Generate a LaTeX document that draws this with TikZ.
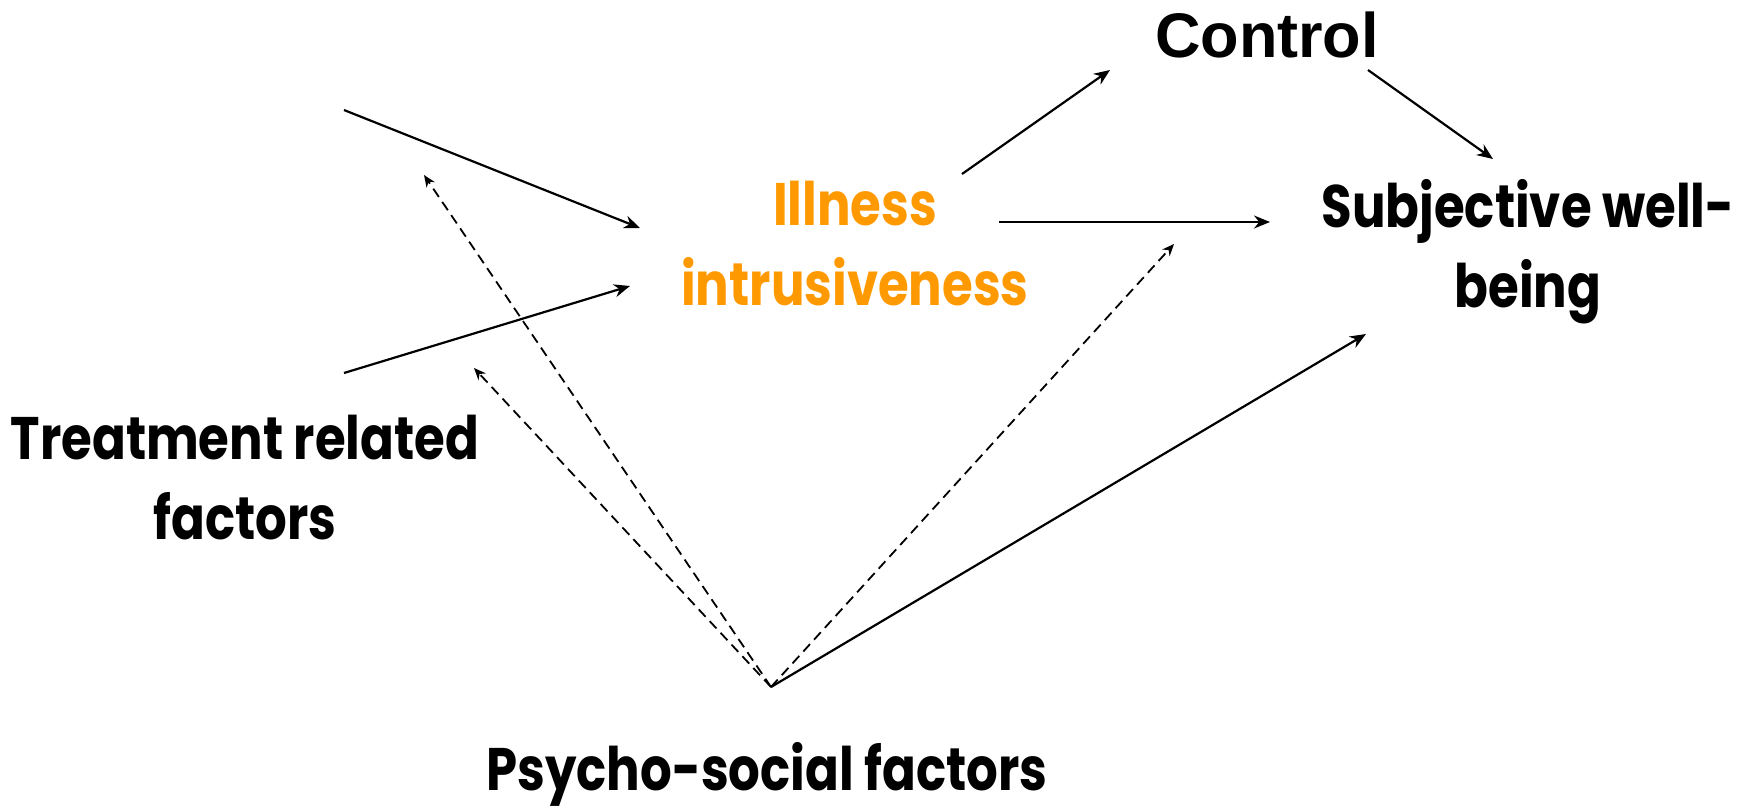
\documentclass[tikz,border=0pt]{standalone}
\usepackage{fontspec}
\setmainfont{Liberation Sans}
\newfontfamily\futfont[FakeStretch=0.83]{Poppins}
\usetikzlibrary{arrows.meta}
\definecolor{IllClr}{RGB}{255,153,0}

\begin{document}
\begin{tikzpicture}[x=0.5pt,y=-0.5pt,
  lbl/.style={font=\futfont\bfseries\fontsize{30}{40}\selectfont,align=center,inner sep=0pt},
  conn/.style={line width=1.1pt,-{Stealth[length=8pt,width=6.5pt]}},
  dconn/.style={line width=0.9pt,dash pattern=on 5pt off 3pt,-{Stealth[length=6pt,width=5pt]}}]
\useasboundingbox (0,0) rectangle (1758,809);

\node[font=\bfseries\fontsize{31.5}{36}\selectfont,inner sep=0pt] (ctrl) at (1267,35) {Control};
\node[lbl,text=IllClr] (ill) at (855,244) {Illness\\intrusiveness};
\node[lbl] (swb) at (1528,252) {Subjective well-\\being};
\node[lbl] (treat) at (245,478) {Treatment related\\factors};
\node[lbl] (psy) at (767,774) {Psycho-social factors};

% free ends of the arrows
\coordinate (t1) at (344,110);  \coordinate (t1e) at (640,228);
\coordinate (t2) at (344,373);  \coordinate (t2e) at (630,286);
\coordinate (ps) at (771,687);
\coordinate (d1) at (424,175);
\coordinate (d2) at (474,368);
\coordinate (d3) at (1174,244);
\coordinate (pse) at (1366,334);
\coordinate (ic) at (962,174);  \coordinate (ice) at (1110,70);
\coordinate (cs) at (1368,70);  \coordinate (cse) at (1493,159);
\coordinate (is) at (999,222);  \coordinate (ise) at (1270,222);

\draw[conn] (t1) -- (t1e);
\draw[conn] (t2) -- (t2e);
\draw[conn] (ic) -- (ice);
\draw[conn] (cs) -- (cse);
\draw[conn] (is) -- (ise);
\draw[conn] (ps) -- (pse);

\draw[dconn] (ps) -- (d1);
\draw[dconn] (ps) -- (d2);
\draw[dconn] (ps) -- (d3);

\end{tikzpicture}
\end{document}
